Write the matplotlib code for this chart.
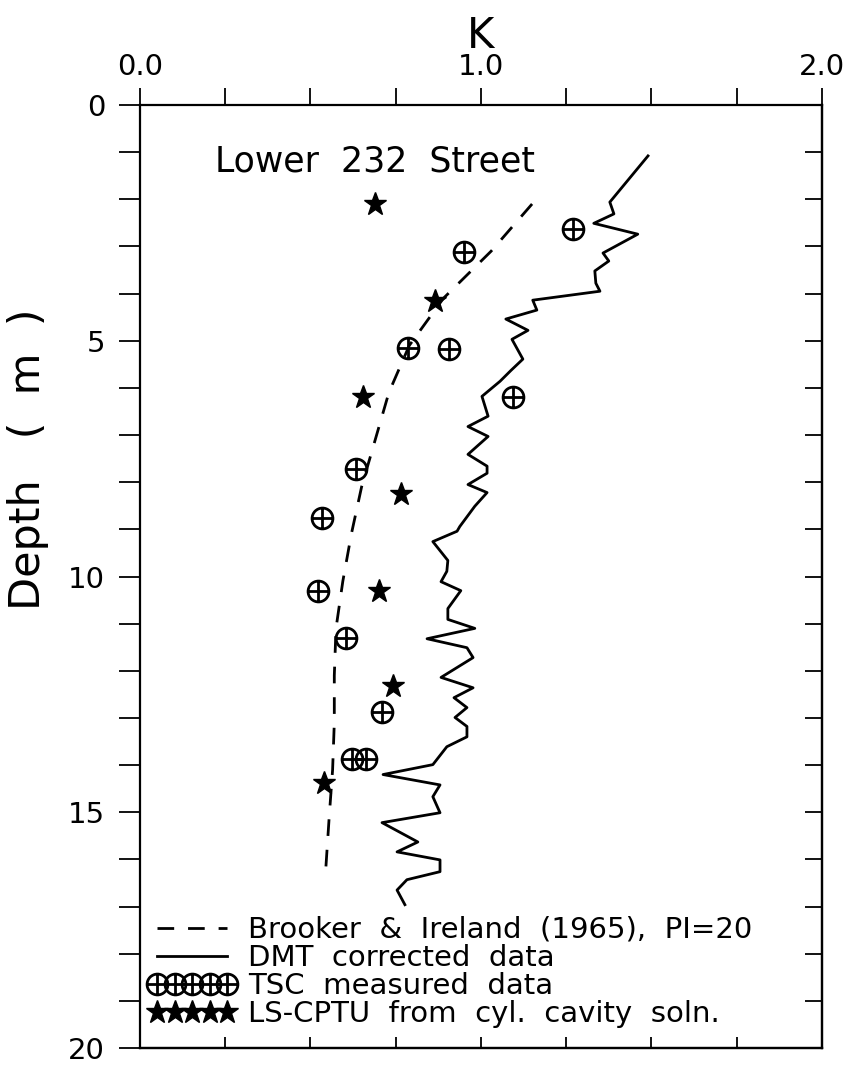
import numpy as np
from matplotlib import pyplot as plt
from matplotlib.path import Path

# Brooker & Ireland (1965) curve, PI=20
bi_k = [1.15, 1.03, 0.89, 0.79, 0.73, 0.69, 0.65, 0.62, 0.595, 0.575, 0.57, 0.57, 0.565, 0.555, 0.545]
bi_depth = [2.1, 3.1, 4.1, 5.1, 6.1, 7.1, 8.1, 9.1, 10.1, 11.1, 12.1, 13.1, 14.1, 15.1, 16.2]

# DMT corrected data
dmt_k = [1.490, 1.378, 1.390, 1.331, 1.460, 1.358, 1.375, 1.334, 1.337, 1.349, 1.152, 1.164,
         1.073, 1.138, 1.091, 1.123, 1.088, 1.056, 1.003, 1.021, 0.962, 1.021, 0.962, 1.018,
         1.018, 0.962, 1.018, 0.982, 0.938, 0.930, 0.859, 0.903, 0.900, 0.883, 0.941, 0.903,
         0.903, 0.982, 0.842, 0.959, 0.977, 0.883, 0.977, 0.921, 0.959, 0.924, 0.959, 0.959,
         0.900, 0.859, 0.713, 0.880, 0.859, 0.880, 0.710, 0.815, 0.754, 0.880, 0.880, 0.783,
         0.754, 0.777]
dmt_depth = [1.08, 2.06, 2.31, 2.51, 2.74, 3.14, 3.31, 3.52, 3.78, 3.95, 4.14, 4.35,
             4.54, 4.78, 4.97, 5.39, 5.63, 5.86, 6.18, 6.60, 6.82, 7.03, 7.41, 7.66,
             7.81, 8.05, 8.22, 8.51, 8.94, 9.04, 9.26, 9.66, 9.89, 10.11, 10.30, 10.68,
             10.91, 11.10, 11.32, 11.51, 11.72, 12.14, 12.36, 12.57, 12.78, 12.99, 13.18, 13.40,
             13.61, 13.99, 14.20, 14.42, 14.67, 15.01, 15.22, 15.63, 15.84, 16.01, 16.26, 16.43,
             16.65, 16.96]

# TSC measured data
tsc_k = [1.27, 0.95, 0.786, 0.906, 1.094, 0.633, 0.534, 0.522, 0.604, 0.71, 0.622, 0.663]
tsc_depth = [2.63, 3.12, 5.16, 5.18, 6.2, 7.71, 8.75, 10.3, 11.3, 12.87, 13.86, 13.86]

# LS-CPTU from cylindrical cavity solution
cptu_k = [0.689, 0.865, 0.654, 0.765, 0.70, 0.742, 0.54]
cptu_depth = [2.1, 4.16, 6.2, 8.24, 10.3, 12.33, 14.37]

# circle with a cross marker
circ = Path.unit_circle()
cross = Path([(-1, 0), (1, 0), (0, -1), (0, 1)],
             [Path.MOVETO, Path.LINETO, Path.MOVETO, Path.LINETO])
oplus = Path.make_compound_path(circ, cross)

fig = plt.figure(figsize=(8.43, 10.9), dpi=100)
ax = fig.add_axes([0.166, 0.0385, 0.809, 0.8652])

ax.plot(bi_k, bi_depth, color='black', lw=2.0, dashes=(6, 5),
        label='Brooker  &  Ireland  (1965),  PI=20')
ax.plot(dmt_k, dmt_depth, color='black', lw=2.0, label='DMT  corrected  data')
ax.plot(tsc_k, tsc_depth, ls='none', marker=oplus, ms=15, mfc='none', mec='black', mew=2.0,
        label='TSC  measured  data')
ax.plot(cptu_k, cptu_depth, ls='none', marker='*', ms=17, color='black',
        label='LS-CPTU  from  cyl.  cavity  soln.')

ax.set_xlim(0, 2)
ax.set_ylim(20, 0)

ax.xaxis.tick_top()
ax.xaxis.set_label_position('top')
ax.set_xticks([0, 1, 2])
ax.set_xticklabels(['0.0', '1.0', '2.0'])
ax.set_xticks(np.arange(0, 2.01, 0.25), minor=True)
ax.tick_params(axis='x', which='both', direction='out', length=12, width=1.3,
               labelsize=21, pad=5)
ax.set_xlabel('K', fontsize=30, labelpad=4)

ax.set_yticks([0, 5, 10, 15, 20])
ax.set_yticks(np.arange(0, 21, 1), minor=True)
ax.tick_params(axis='y', which='both', direction='out', length=15, width=1.3,
               labelsize=21, pad=10)
ax.set_ylabel('Depth   (  m  )', fontsize=31)
ax.yaxis.set_label_coords(-0.133, 0.624)

sb = ax.secondary_xaxis('bottom')
sb.set_xticks(np.arange(0, 2.01, 0.25))
sb.tick_params(direction='in', length=8, width=1.3, labelbottom=False)
sr = ax.secondary_yaxis('right')
sr.set_yticks(np.arange(0, 21, 1))
sr.tick_params(direction='in', length=12, width=1.3, labelright=False)

for s in list(ax.spines.values()) + list(sb.spines.values()) + list(sr.spines.values()):
    s.set_linewidth(1.6)

ax.text(0.345, 0.94, 'Lower  232  Street', transform=ax.transAxes, fontsize=25,
        ha='center', va='center')

ax.legend(loc='lower left', bbox_to_anchor=(0.0, 0.012), frameon=False, fontsize=21,
          numpoints=5, handlelength=3.0, handletextpad=0.4, labelspacing=0.0,
          borderaxespad=0, borderpad=0.3)

fig.savefig('out.png', dpi=100)
